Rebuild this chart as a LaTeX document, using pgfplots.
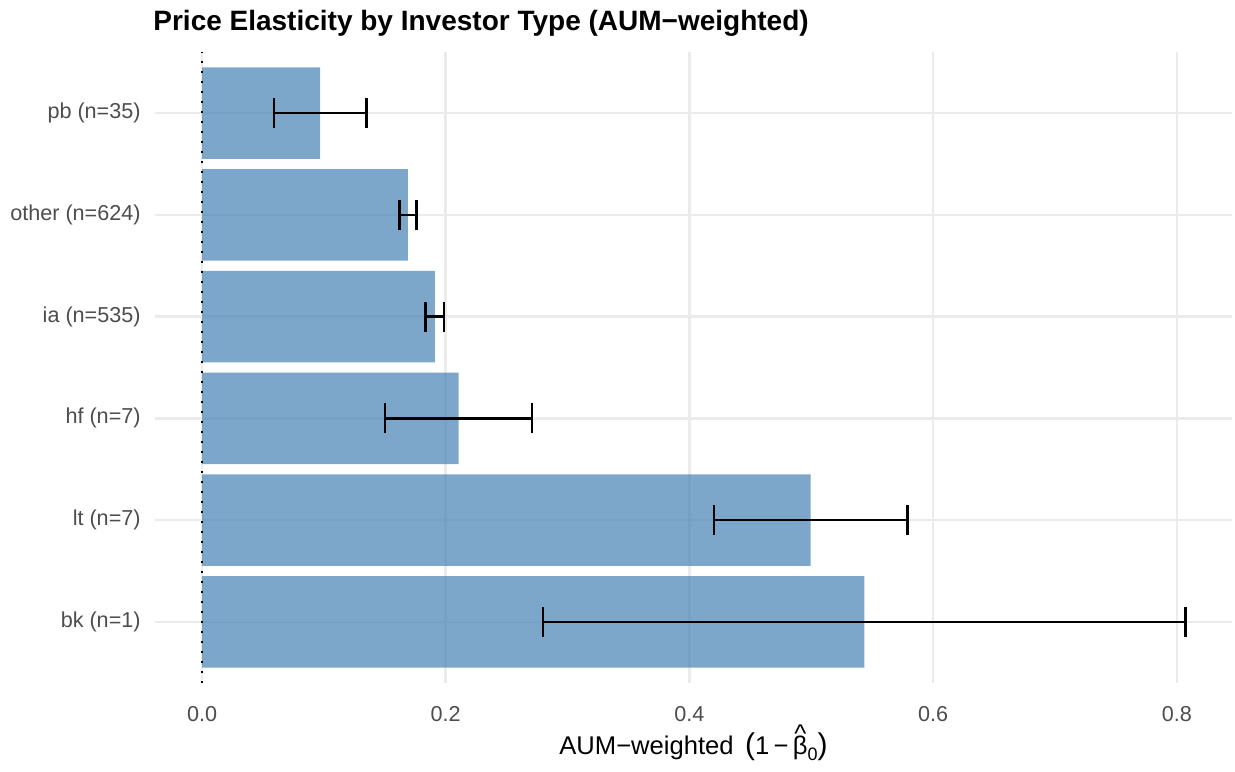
\documentclass[border=0pt]{standalone}
\usepackage{fontspec}
\setmainfont{Liberation Sans}
\usepackage{pgfplots}
\pgfplotsset{compat=1.18}
\usepackage{pgfplotstable}
\definecolor{steelblue}{RGB}{70,130,180}
\definecolor{gridgrey}{RGB}{235,235,235}
\definecolor{ticktext}{RGB}{77,77,77}

\pgfplotstableread{
y val err
1 0.5435 0.2635
2 0.4995 0.0795
3 0.2105 0.0605
4 0.1910 0.0075
5 0.1690 0.0070
6 0.0970 0.0380
}\elast

\begin{document}
\begin{tikzpicture}
\useasboundingbox (-77.5pt,-44pt) rectangle (540pt,341.5pt);
\begin{axis}[
 scale only axis, width=538.5pt, height=315.5pt,
 xmin=-0.0386, xmax=0.8453, ymin=0.4, ymax=6.6,
 axis line style={draw=none}, tick style={draw=none},
 xtick={0,0.2,0.4,0.6,0.8}, xticklabels={0.0,0.2,0.4,0.6,0.8},
 ytick={1,2,3,4,5,6}, yticklabels={bk (n=1), lt (n=7), hf (n=7), ia (n=535), other (n=624), pb (n=35)},
 xmajorgrids, ymajorgrids, major grid style={gridgrey, line width=1.3pt},
 ticklabel style={font=\fontsize{10.8}{12}\selectfont, text=ticktext},
 xticklabel style={anchor=base, inner sep=0pt, yshift=-19pt},
 yticklabel style={anchor=east, inner sep=0pt, xshift=-7pt},
 title={Price Elasticity by Investor Type (AUM−weighted)},
 every axis title/.style={},
 title style={at={(axis description cs:0,1)}, anchor=base west, font=\bfseries\fontsize{14}{17}\selectfont, yshift=10.5pt, xshift=-1pt, inner sep=0pt},
 xlabel={AUM−weighted\hspace{0.45em}{\fontsize{15}{15}\selectfont(}1\,−\,{\ooalign{β\cr\hidewidth\raisebox{0.45em}{\char"5E}\hidewidth\cr}}\raisebox{-0.45ex}{\fontsize{9}{9}\selectfont 0}{\fontsize{15}{15}\selectfont)}},
 xlabel style={at={(axis description cs:0.5,0)}, anchor=base, yshift=-35.5pt, inner sep=0pt, font=\fontsize{12.8}{15}\selectfont},
]
\addplot[xbar, bar width=0.9, bar shift=0, fill=steelblue, fill opacity=0.7, draw=none] table[x=val, y=y]{\elast};
\addplot[draw=none, no markers, forget plot, error bars/.cd, x dir=both, x explicit, error mark=|, error bar style={line width=1.2pt, draw=black, solid}, error mark options={line width=1.2pt, mark size=7.5pt, draw=black, solid}] table[x=val, y=y, x error=err]{\elast};
\addplot[black, line width=1.3pt, dash pattern=on 1.2pt off 3.8pt] coordinates {(0,0.4) (0,6.6)};
\end{axis}
\end{tikzpicture}
\end{document}
